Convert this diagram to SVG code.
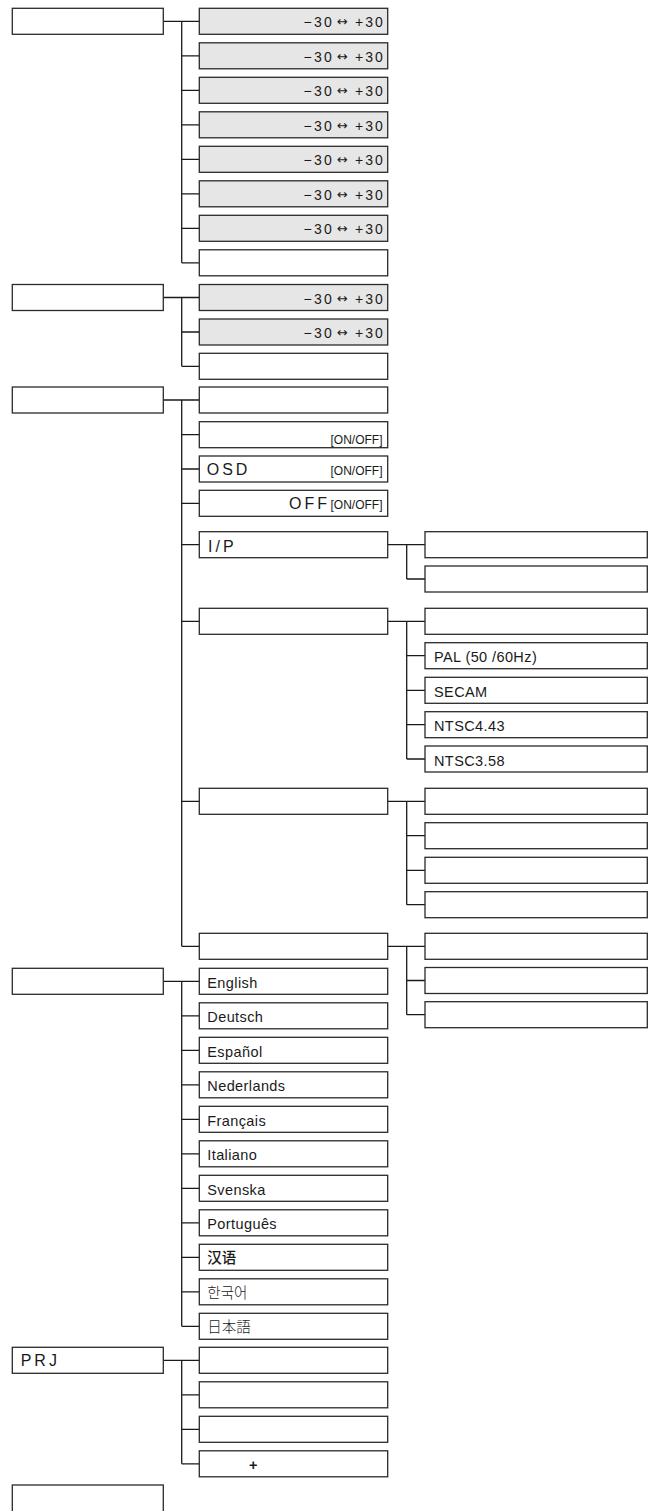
<svg xmlns="http://www.w3.org/2000/svg" width="655" height="1511" viewBox="0 0 655 1511">
<defs>
<style>
.b{fill:#fff;stroke:#2a2a2a;stroke-width:1.3}
.g{fill:#e6e6e6;stroke:#2a2a2a;stroke-width:1.3}
.c{fill:none;stroke:#1a1a1a;stroke-width:1.3}
.t{font-family:"Liberation Sans",Arial,sans-serif;font-size:14.5px;letter-spacing:0.4px;fill:#1a1a1a}
.r{font-family:"Liberation Sans",Arial,sans-serif;font-size:14px;fill:#1a1a1a}
.a{font-family:"DejaVu Sans",sans-serif;font-size:13px;fill:#1a1a1a;text-anchor:middle}
.o{font-family:"Liberation Sans",Arial,sans-serif;font-size:12px;fill:#1a1a1a;text-anchor:end}
.w{font-family:"Liberation Sans",Arial,sans-serif;font-size:16px;letter-spacing:3px;fill:#1a1a1a}
.k{font-size:14.5px;fill:#1a1a1a}
</style>
</defs>
<g id="connectors">
<path class="c" d="M163.3 21.3H199.3M181.7 21.3V262.8M181.7 55.8H199.3M181.7 90.3H199.3M181.7 124.8H199.3M181.7 159.3H199.3M181.7 193.8H199.3M181.7 228.3H199.3M181.7 262.8H199.3"/>
<path class="c" d="M163.3 297.5H199.3M181.7 297.5V366.3M181.7 332H199.3M181.7 366.3H199.3"/>
<path class="c" d="M163.3 400H199.3M181.7 400V946.3M181.7 434.7H199.3M181.7 469H199.3M181.7 503.3H199.3M181.7 544.7H199.3M181.7 621.3H199.3M181.7 801.3H199.3M181.7 946.3H199.3"/>
<path class="c" d="M387.7 544.7H425M406.7 544.7V579M406.7 579H425"/>
<path class="c" d="M387.7 621.3H425M406.7 621.3V759M406.7 655.7H425M406.7 690.3H425M406.7 724.7H425M406.7 759H425"/>
<path class="c" d="M387.7 801.3H425M406.7 801.3V904.7M406.7 835.7H425M406.7 870.3H425M406.7 904.7H425"/>
<path class="c" d="M387.7 946.3H425M406.7 946.3V1014.7M406.7 980.5H425M406.7 1014.7H425"/>
<path class="c" d="M163.3 981.3H199.3M181.7 981.3V1326.3M181.7 1015.8H199.3M181.7 1050.3H199.3M181.7 1084.8H199.3M181.7 1119.3H199.3M181.7 1153.8H199.3M181.7 1188.3H199.3M181.7 1222.8H199.3M181.7 1257.3H199.3M181.7 1291.8H199.3M181.7 1326.3H199.3"/>
<path class="c" d="M163.3 1360.3H199.3M181.7 1360.3V1463.8M181.7 1394.8H199.3M181.7 1429.3H199.3M181.7 1463.8H199.3"/>
</g>
<g id="menu1"><rect class="b" x="12.3" y="8.3" width="151" height="26"/></g>
<g id="m1-1"><rect class="g" x="199.3" y="8.3" width="188.4" height="26"/><text class="r" x="303.5" y="27.3" textLength="28.4">−30</text><text class="a" x="342.5" y="26.3">↔</text><text class="r" x="355" y="27.3" textLength="27.7">+30</text></g>
<g id="m1-2"><rect class="g" x="199.3" y="42.8" width="188.4" height="26"/><text class="r" x="303.5" y="61.8" textLength="28.4">−30</text><text class="a" x="342.5" y="60.8">↔</text><text class="r" x="355" y="61.8" textLength="27.7">+30</text></g>
<g id="m1-3"><rect class="g" x="199.3" y="77.3" width="188.4" height="26"/><text class="r" x="303.5" y="96.3" textLength="28.4">−30</text><text class="a" x="342.5" y="95.3">↔</text><text class="r" x="355" y="96.3" textLength="27.7">+30</text></g>
<g id="m1-4"><rect class="g" x="199.3" y="111.8" width="188.4" height="26"/><text class="r" x="303.5" y="130.8" textLength="28.4">−30</text><text class="a" x="342.5" y="129.8">↔</text><text class="r" x="355" y="130.8" textLength="27.7">+30</text></g>
<g id="m1-5"><rect class="g" x="199.3" y="146.3" width="188.4" height="26"/><text class="r" x="303.5" y="165.3" textLength="28.4">−30</text><text class="a" x="342.5" y="164.3">↔</text><text class="r" x="355" y="165.3" textLength="27.7">+30</text></g>
<g id="m1-6"><rect class="g" x="199.3" y="180.8" width="188.4" height="26"/><text class="r" x="303.5" y="199.8" textLength="28.4">−30</text><text class="a" x="342.5" y="198.8">↔</text><text class="r" x="355" y="199.8" textLength="27.7">+30</text></g>
<g id="m1-7"><rect class="g" x="199.3" y="215.3" width="188.4" height="26"/><text class="r" x="303.5" y="234.3" textLength="28.4">−30</text><text class="a" x="342.5" y="233.3">↔</text><text class="r" x="355" y="234.3" textLength="27.7">+30</text></g>
<g id="m1-8"><rect class="b" x="199.3" y="249.8" width="188.4" height="26"/></g>
<g id="menu2"><rect class="b" x="12.3" y="284.5" width="151" height="26"/></g>
<g id="m2-1"><rect class="g" x="199.3" y="284.5" width="188.4" height="26"/><text class="r" x="303.5" y="303.5" textLength="28.4">−30</text><text class="a" x="342.5" y="302.5">↔</text><text class="r" x="355" y="303.5" textLength="27.7">+30</text></g>
<g id="m2-2"><rect class="g" x="199.3" y="319" width="188.4" height="26"/><text class="r" x="303.5" y="338" textLength="28.4">−30</text><text class="a" x="342.5" y="337">↔</text><text class="r" x="355" y="338" textLength="27.7">+30</text></g>
<g id="m2-3"><rect class="b" x="199.3" y="353.3" width="188.4" height="26"/></g>
<g id="menu3"><rect class="b" x="12.3" y="387" width="151" height="26"/></g>
<g id="m3-1"><rect class="b" x="199.3" y="387" width="188.4" height="26"/></g>
<g id="m3-2"><rect class="b" x="199.3" y="421.7" width="188.4" height="26"/><text class="o" x="382.5" y="443.7">[ON/OFF]</text></g>
<g id="m3-3"><rect class="b" x="199.3" y="456" width="188.4" height="26"/><text class="w" x="206.7" y="474.5">OSD</text><text class="o" x="382.5" y="474.5">[ON/OFF]</text></g>
<g id="m3-4"><rect class="b" x="199.3" y="490.3" width="188.4" height="26"/><text class="w" x="289" y="508.8" letter-spacing="1.5">OFF</text><text class="o" x="382.5" y="508.8">[ON/OFF]</text></g>
<g id="m3-ip"><rect class="b" x="199.3" y="531.7" width="188.4" height="26"/><text class="w" x="208" y="551.5" letter-spacing="2.5">I/P</text></g>
<g id="ip-1"><rect class="b" x="425" y="531.7" width="222.3" height="26"/></g>
<g id="ip-2"><rect class="b" x="425" y="566" width="222.3" height="26"/></g>
<g id="m3-video"><rect class="b" x="199.3" y="608.3" width="188.4" height="26"/></g>
<g id="v-1"><rect class="b" x="425" y="608.3" width="222.3" height="26"/></g>
<g id="v-2"><rect class="b" x="425" y="642.7" width="222.3" height="26"/><text class="t" x="434" y="662.2">PAL (50 /60Hz)</text></g>
<g id="v-3"><rect class="b" x="425" y="677.3" width="222.3" height="26"/><text class="t" x="434" y="696.8">SECAM</text></g>
<g id="v-4"><rect class="b" x="425" y="711.7" width="222.3" height="26"/><text class="t" x="434" y="731.2">NTSC4.43</text></g>
<g id="v-5"><rect class="b" x="425" y="746" width="222.3" height="26"/><text class="t" x="434" y="765.5">NTSC3.58</text></g>
<g id="m3-a"><rect class="b" x="199.3" y="788.3" width="188.4" height="26"/></g>
<g id="a-1"><rect class="b" x="425" y="788.3" width="222.3" height="26"/></g>
<g id="a-2"><rect class="b" x="425" y="822.7" width="222.3" height="26"/></g>
<g id="a-3"><rect class="b" x="425" y="857.3" width="222.3" height="26"/></g>
<g id="a-4"><rect class="b" x="425" y="891.7" width="222.3" height="26"/></g>
<g id="m3-b"><rect class="b" x="199.3" y="933.3" width="188.4" height="26"/></g>
<g id="b-1"><rect class="b" x="425" y="933.3" width="222.3" height="26"/></g>
<g id="b-2"><rect class="b" x="425" y="967.5" width="222.3" height="26"/></g>
<g id="b-3"><rect class="b" x="425" y="1001.7" width="222.3" height="26"/></g>
<g id="menu4"><rect class="b" x="12.3" y="968.3" width="151" height="26"/></g>
<g id="lang-1"><rect class="b" x="199.3" y="968.3" width="188.4" height="26"/><text class="t" x="207.3" y="987.8">English</text></g>
<g id="lang-2"><rect class="b" x="199.3" y="1002.8" width="188.4" height="26"/><text class="t" x="207.3" y="1022.3">Deutsch</text></g>
<g id="lang-3"><rect class="b" x="199.3" y="1037.3" width="188.4" height="26"/><text class="t" x="207.3" y="1056.8">Español</text></g>
<g id="lang-4"><rect class="b" x="199.3" y="1071.8" width="188.4" height="26"/><text class="t" x="207.3" y="1091.3">Nederlands</text></g>
<g id="lang-5"><rect class="b" x="199.3" y="1106.3" width="188.4" height="26"/><text class="t" x="207.3" y="1125.8">Français</text></g>
<g id="lang-6"><rect class="b" x="199.3" y="1140.8" width="188.4" height="26"/><text class="t" x="207.3" y="1160.3">Italiano</text></g>
<g id="lang-7"><rect class="b" x="199.3" y="1175.3" width="188.4" height="26"/><text class="t" x="207.3" y="1194.8">Svenska</text></g>
<g id="lang-8"><rect class="b" x="199.3" y="1209.8" width="188.4" height="26"/><text class="t" x="207.3" y="1229.3">Português</text></g>
<g id="lang-9"><rect class="b" x="199.3" y="1244.3" width="188.4" height="26"/><text class="k" x="207.3" y="1263.3" font-family="'Noto Sans CJK SC',sans-serif" font-weight="500">汉语</text></g>
<g id="lang-10"><rect class="b" x="199.3" y="1278.8" width="188.4" height="26"/><text class="k" x="207.3" y="1297.8" font-family="'Noto Sans CJK KR',sans-serif" font-weight="300">한국어</text></g>
<g id="lang-11"><rect class="b" x="199.3" y="1313.3" width="188.4" height="26"/><text class="k" x="207.3" y="1332.3" font-family="'Noto Sans CJK JP',sans-serif" font-weight="300">日本語</text></g>
<g id="menu5"><rect class="b" x="12.3" y="1347.3" width="151" height="26"/><text class="w" x="20.7" y="1366">PRJ</text></g>
<g id="p-1"><rect class="b" x="199.3" y="1347.3" width="188.4" height="26"/></g>
<g id="p-2"><rect class="b" x="199.3" y="1381.8" width="188.4" height="26"/></g>
<g id="p-3"><rect class="b" x="199.3" y="1416.3" width="188.4" height="26"/></g>
<g id="p-4"><rect class="b" x="199.3" y="1450.8" width="188.4" height="26"/><text class="t" x="253.5" y="1469.5" text-anchor="middle" font-weight="bold" letter-spacing="0">+</text></g>
<g id="menu6"><rect class="b" x="12.3" y="1485" width="151" height="32"/></g>
</svg>
